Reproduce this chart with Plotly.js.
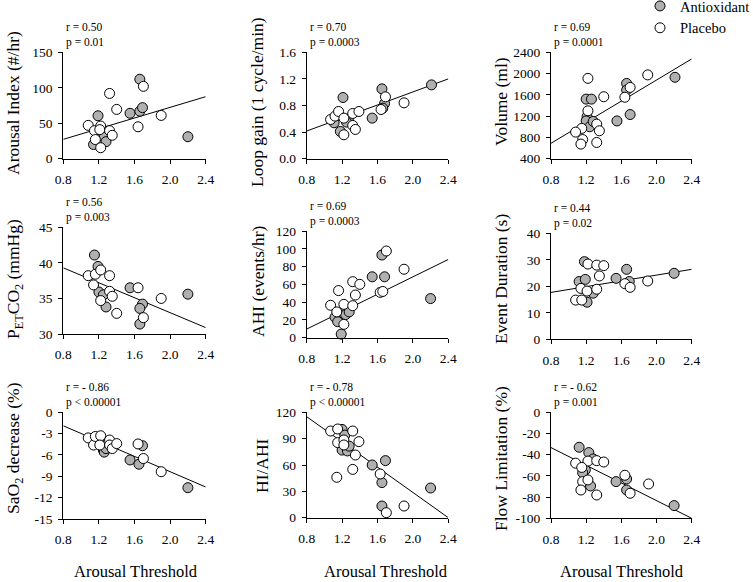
<!DOCTYPE html>
<html><head><meta charset="utf-8">
<script src="https://cdn.plot.ly/plotly-3.0.1.min.js"></script>
<style>html,body{margin:0;padding:0;background:#fff}</style>
</head><body><div id="chart" style="width:753px;height:582px"></div>
<script>
// ---------- DATA ----------
const xTickVals = [0.8, 1.2, 1.6, 2.0, 2.4];
const xTickText = ['0.8', '1.2', '1.6', '2.0', '2.4'];
const fitX = [0.8, 2.4];

// Panel 1: Arousal Index (#/hr)
const p1AntiX = [1.14, 1.19, 1.23, 1.26, 1.28, 1.55, 1.66, 1.66, 1.69, 2.20];
const p1AntiY = [20, 60.5, 36, 30, 24, 64, 67, 112, 72, 31];
const p1PlacX = [1.08, 1.15, 1.16, 1.22, 1.22, 1.21, 1.32, 1.35, 1.32, 1.40, 1.64, 1.70, 1.90];
const p1PlacY = [47, 39.5, 27, 46, 15.5, 41, 39.5, 33, 92, 69.5, 45, 102, 61];
const p1Fit = [27.3, 87.4];

// Panel 2: Loop gain
const p2AntiX = [1.11, 1.21, 1.18, 1.27, 1.25, 1.54, 1.65, 1.68, 1.66, 2.21];
const p2AntiY = [0.54, 0.92, 0.41, 0.60, 0.55, 0.61, 1.05, 0.83, 0.76, 1.11];
const p2PlacX = [1.07, 1.12, 1.16, 1.22, 1.22, 1.32, 1.32, 1.35, 1.39, 1.64, 1.69, 1.90];
const p2PlacY = [0.59, 0.64, 0.71, 0.61, 0.36, 0.68, 0.50, 0.44, 0.71, 0.74, 0.93, 0.84];
const p2Fit = [0.416, 1.20];

// Panel 3: Volume (ml)
const p3AntiX = [1.20, 1.26, 1.21, 1.20, 1.24, 1.28, 1.55, 1.70, 1.66, 1.66, 2.21];
const p3AntiY = [1520, 1520, 1190, 1110, 1000, 1100, 1110, 1230, 1815, 1690, 1930];
const p3PlacX = [1.22, 1.22, 1.15, 1.08, 1.16, 1.14, 1.32, 1.35, 1.32, 1.40, 1.64, 1.70, 1.90];
const p3PlacY = [1910, 1300, 970, 900, 760, 675, 1050, 925, 705, 1565, 1555, 1740, 1975];
const p3Fit = [690, 2275];

// Panel 4: PETCO2 (mmHg)
const p4AntiX = [1.15, 1.19, 1.20, 1.25, 1.28, 1.55, 1.69, 1.66, 1.66, 2.20];
const p4AntiY = [41.1, 39.5, 35.9, 35.5, 33.8, 36.5, 34.2, 33.6, 31.4, 35.6];
const p4PlacX = [1.08, 1.14, 1.16, 1.22, 1.22, 1.32, 1.32, 1.35, 1.40, 1.64, 1.70, 1.90];
const p4PlacY = [38.2, 36.9, 38.4, 39.0, 34.7, 38.2, 36.0, 35.3, 32.9, 36.5, 32.3, 35.0];
const p4Fit = [39.3, 30.9];

// Panel 5: AHI (events/hr)
const p5AntiX = [1.12, 1.15, 1.19, 1.20, 1.24, 1.28, 1.54, 1.65, 1.68, 2.20];
const p5AntiY = [23, 18, 4, 28.5, 26, 29, 68.5, 93, 68.5, 44];
const p5PlacX = [1.07, 1.16, 1.14, 1.22, 1.22, 1.32, 1.32, 1.35, 1.40, 1.63, 1.66, 1.70, 1.90];
const p5PlacY = [36.5, 53, 29, 15, 37.5, 63, 36, 48, 60, 51, 52, 97.5, 77];
const p5Fit = [9.7, 88];

// Panel 6: Event Duration (s)
const p6AntiX = [1.18, 1.12, 1.19, 1.21, 1.28, 1.54, 1.66, 1.69, 2.20];
const p6AntiY = [29.3, 21.8, 22.6, 14.0, 17.4, 23.0, 26.4, 21.8, 24.9];
const p6PlacX = [1.22, 1.32, 1.40, 1.35, 1.14, 1.08, 1.15, 1.21, 1.32, 1.64, 1.70, 1.90];
const p6PlacY = [28.4, 28.0, 27.8, 23.9, 19.2, 14.8, 14.8, 18.2, 18.9, 21.0, 19.6, 22.0];
const p6Fit = [17.7, 26.4];

// Panel 7: SaO2 decrease (%)
const p7AntiX = [1.20, 1.25, 1.26, 1.28, 1.55, 1.69, 1.65, 2.20];
const p7AntiY = [-3.9, -5.3, -5.6, -5.1, -6.7, -4.7, -7.3, -10.6];
const p7PlacX = [1.08, 1.14, 1.16, 1.22, 1.21, 1.32, 1.32, 1.35, 1.40, 1.64, 1.70, 1.90];
const p7PlacY = [-3.6, -4.6, -3.4, -3.3, -4.6, -3.9, -4.6, -5.1, -4.4, -4.45, -6.5, -8.35];
const p7Fit = [-1.9, -10.5];

// Panel 8: HI/AHI
const p8AntiX = [1.20, 1.23, 1.20, 1.26, 1.28, 1.54, 1.69, 1.65, 1.65, 2.20];
const p8AntiY = [100.5, 94, 77, 76, 81.5, 60, 65, 40, 13.3, 33.8];
const p8PlacX = [1.07, 1.15, 1.15, 1.22, 1.22, 1.32, 1.39, 1.35, 1.32, 1.14, 1.63, 1.70, 1.90];
const p8PlacY = [98.7, 101, 85.5, 88.5, 82.8, 98.7, 86.6, 71.4, 55, 46, 49.8, 5.7, 13.3];
const p8Fit = [115, 0];

// Panel 9: Flow Limitation (%)
const p9AntiX = [1.12, 1.23, 1.28, 1.19, 1.16, 1.25, 1.54, 1.66, 1.66, 2.20];
const p9AntiY = [-33, -38, -44, -54.4, -57, -69.5, -65.4, -62.9, -73.3, -88];
const p9PlacX = [1.08, 1.22, 1.32, 1.40, 1.15, 1.16, 1.22, 1.14, 1.32, 1.64, 1.70, 1.91];
const p9PlacY = [-48, -46, -45.6, -46.9, -52, -65.4, -63.8, -73.3, -78, -59.4, -76.4, -67.6];
const p9Fit = [-33.3, -100];

// y tick values / labels
const p1Ticks = [0, 50, 100, 150];
const p2Ticks = [0, 0.4, 0.8, 1.2, 1.6];
const p2TickText = ['0.0', '0.4', '0.8', '1.2', '1.6'];
const p3Ticks = [400, 800, 1200, 1600, 2000, 2400];
const p4Ticks = [30, 35, 40, 45];
const p5Ticks = [0, 20, 40, 60, 80, 100, 120];
const p6Ticks = [0, 10, 20, 30, 40];
const p7Ticks = [-15, -12, -9, -6, -3, 0];
const p7TickText = ['-15', '-12', '-9', '-6', '-3', '0'];
const p8Ticks = [0, 30, 60, 90, 120];
const p9Ticks = [-100, -80, -60, -40, -20, 0];
const p9TickText = ['-100', '-80', '-60', '-40', '-20', '0'];

const yTitles = ['Arousal Index (#/hr)', 'Loop gain (1 cycle/min)', 'Volume (ml)',
  'P<sub>ET</sub>CO<sub>2</sub> (mmHg)', 'AHI (events/hr)', 'Event Duration (s)',
  'SaO<sub>2</sub> decrease (%)', 'HI/AHI', 'Flow Limitation (%)'];
const rTexts = ['r = 0.50', 'r = 0.70', 'r = 0.69', 'r = 0.56', 'r = 0.69', 'r = 0.44', 'r = - 0.86', 'r = - 0.78', 'r = - 0.62'];
const pTexts = ['p = 0.01', 'p = 0.0003', 'p = 0.0001', 'p = 0.003', 'p = 0.0003', 'p = 0.02', 'p < 0.00001', 'p < 0.00001', 'p = 0.001'];
const xTitle = 'Arousal Threshold';
const groupNames = ['Antioxidant', 'Placebo'];

// ---------- BUILD ----------
const W = 753, H = 582;
const FONT = 'Liberation Serif, Times New Roman, serif';
const GRAY = '#b0b0b0';

const panels = [
  {ax: p1AntiX, ay: p1AntiY, px: p1PlacX, py: p1PlacY, fit: p1Fit, range: [0, 150], tv: p1Ticks, tt: p1Ticks.map(String)},
  {ax: p2AntiX, ay: p2AntiY, px: p2PlacX, py: p2PlacY, fit: p2Fit, range: [0, 1.6], tv: p2Ticks, tt: p2TickText},
  {ax: p3AntiX, ay: p3AntiY, px: p3PlacX, py: p3PlacY, fit: p3Fit, range: [400, 2400], tv: p3Ticks, tt: p3Ticks.map(String)},
  {ax: p4AntiX, ay: p4AntiY, px: p4PlacX, py: p4PlacY, fit: p4Fit, range: [30, 45], tv: p4Ticks, tt: p4Ticks.map(String)},
  {ax: p5AntiX, ay: p5AntiY, px: p5PlacX, py: p5PlacY, fit: p5Fit, range: [0, 120], tv: p5Ticks, tt: p5Ticks.map(String)},
  {ax: p6AntiX, ay: p6AntiY, px: p6PlacX, py: p6PlacY, fit: p6Fit, range: [0, 40], tv: p6Ticks, tt: p6Ticks.map(String)},
  {ax: p7AntiX, ay: p7AntiY, px: p7PlacX, py: p7PlacY, fit: p7Fit, range: [-15, 0], tv: p7Ticks, tt: p7TickText},
  {ax: p8AntiX, ay: p8AntiY, px: p8PlacX, py: p8PlacY, fit: p8Fit, range: [0, 120], tv: p8Ticks, tt: p8Ticks.map(String)},
  {ax: p9AntiX, ay: p9AntiY, px: p9PlacX, py: p9PlacY, fit: p9Fit, range: [-100, 0], tv: p9Ticks, tt: p9TickText}
];

// pixel geometry of each plot area: [left, right, top, bottom]
const geom = [
  [63.3, 205.7, 52.3, 158.7], [306.7, 448.3, 52.3, 158.7], [551, 691.7, 52.3, 158.7],
  [63.3, 205.7, 227.3, 334], [306.7, 448.3, 231, 337.7], [551, 691.7, 233.3, 339.3],
  [63.3, 205.7, 412.3, 519], [306.7, 448.3, 412.3, 517.7], [551, 691.7, 412.3, 518.3]
];
const yTitlePos = [[13, 103], [257, 102], [501, 102], [14, 279], [258, 282], [501, 279], [14, 448], [262, 466], [501, 459]];
const xTitlePos = [[136, 571], [386, 571], [622, 571]];

const fx = p => p / W, fy = p => 1 - p / H;

const traces = [];
const layout = {
  width: W, height: H,
  margin: {l: 0, r: 0, t: 0, b: 0, autoexpand: false},
  paper_bgcolor: '#fff', plot_bgcolor: 'rgba(0,0,0,0)',
  font: {family: FONT, color: '#000', size: 13.5},
  showlegend: true,
  legend: {x: fx(640), y: fy(-10), xanchor: 'left', yanchor: 'top', font: {family: FONT, size: 14.5, color: '#000'},
    bgcolor: 'rgba(0,0,0,0)', tracegroupgap: 0, itemwidth: 30},
  annotations: [],
  shapes: []
};

panels.forEach((p, i) => {
  const n = i + 1;
  const xa = 'x' + (n === 1 ? '' : n), ya = 'y' + (n === 1 ? '' : n);
  const g = geom[i];
  traces.push({x: fitX, y: p.fit, xaxis: xa, yaxis: ya, mode: 'lines', type: 'scatter',
    line: {color: '#000', width: 1}, showlegend: false, hoverinfo: 'skip'});
  traces.push({x: p.ax, y: p.ay, xaxis: xa, yaxis: ya, mode: 'markers', type: 'scatter', name: groupNames[0],
    marker: {size: 10, color: GRAY, line: {color: '#000', width: 1}}, showlegend: i === 0, cliponaxis: false});
  traces.push({x: p.px, y: p.py, xaxis: xa, yaxis: ya, mode: 'markers', type: 'scatter', name: groupNames[1],
    marker: {size: 10, color: '#fff', line: {color: '#000', width: 1}}, showlegend: i === 0, cliponaxis: false});

  const axCommon = {showline: true, linecolor: '#000', linewidth: 1, ticks: 'outside', ticklen: 4, tickwidth: 1,
    tickcolor: '#000', showgrid: false, zeroline: false, tickfont: {family: FONT, size: 13.5, color: '#000'}, fixedrange: true,
    automargin: false};
  layout['xaxis' + (n === 1 ? '' : n)] = Object.assign({}, axCommon, {
    domain: [fx(g[0]), fx(g[1])], anchor: ya, range: [0.8, 2.4], tickmode: 'array', tickvals: xTickVals, ticktext: xTickText,
    ticklabelstandoff: 4});
  layout['yaxis' + (n === 1 ? '' : n)] = Object.assign({}, axCommon, {
    domain: [fy(g[3]), fy(g[2])], anchor: xa, range: p.range, tickmode: 'array', tickvals: p.tv, ticktext: p.tt,
    ticklabelstandoff: 3});

  layout.annotations.push({xref: 'paper', yref: 'paper', x: fx(yTitlePos[i][0]), y: fy(yTitlePos[i][1]),
    xanchor: 'center', yanchor: 'middle', text: yTitles[i], textangle: -90, showarrow: false,
    font: {family: FONT, size: 17.5, color: '#000'}});
  layout.annotations.push({xref: 'paper', yref: 'paper', x: fx(g[0] + 1), y: fy(g[2] - 25), xanchor: 'left', yanchor: 'middle',
    text: rTexts[i], showarrow: false, font: {family: FONT, size: 11.5, color: '#000'}});
  layout.annotations.push({xref: 'paper', yref: 'paper', x: fx(g[0] + 1), y: fy(g[2] - 10), xanchor: 'left', yanchor: 'middle',
    text: pTexts[i], showarrow: false, font: {family: FONT, size: 11.5, color: '#000'}});
});

xTitlePos.forEach(pos => {
  layout.annotations.push({xref: 'paper', yref: 'paper', x: fx(pos[0]), y: fy(pos[1]), xanchor: 'center', yanchor: 'middle',
    text: xTitle, showarrow: false, font: {family: FONT, size: 16.5, color: '#000'}});
});

Plotly.newPlot('chart', traces, layout, {displayModeBar: false, staticPlot: true});
</script>
</body></html>
